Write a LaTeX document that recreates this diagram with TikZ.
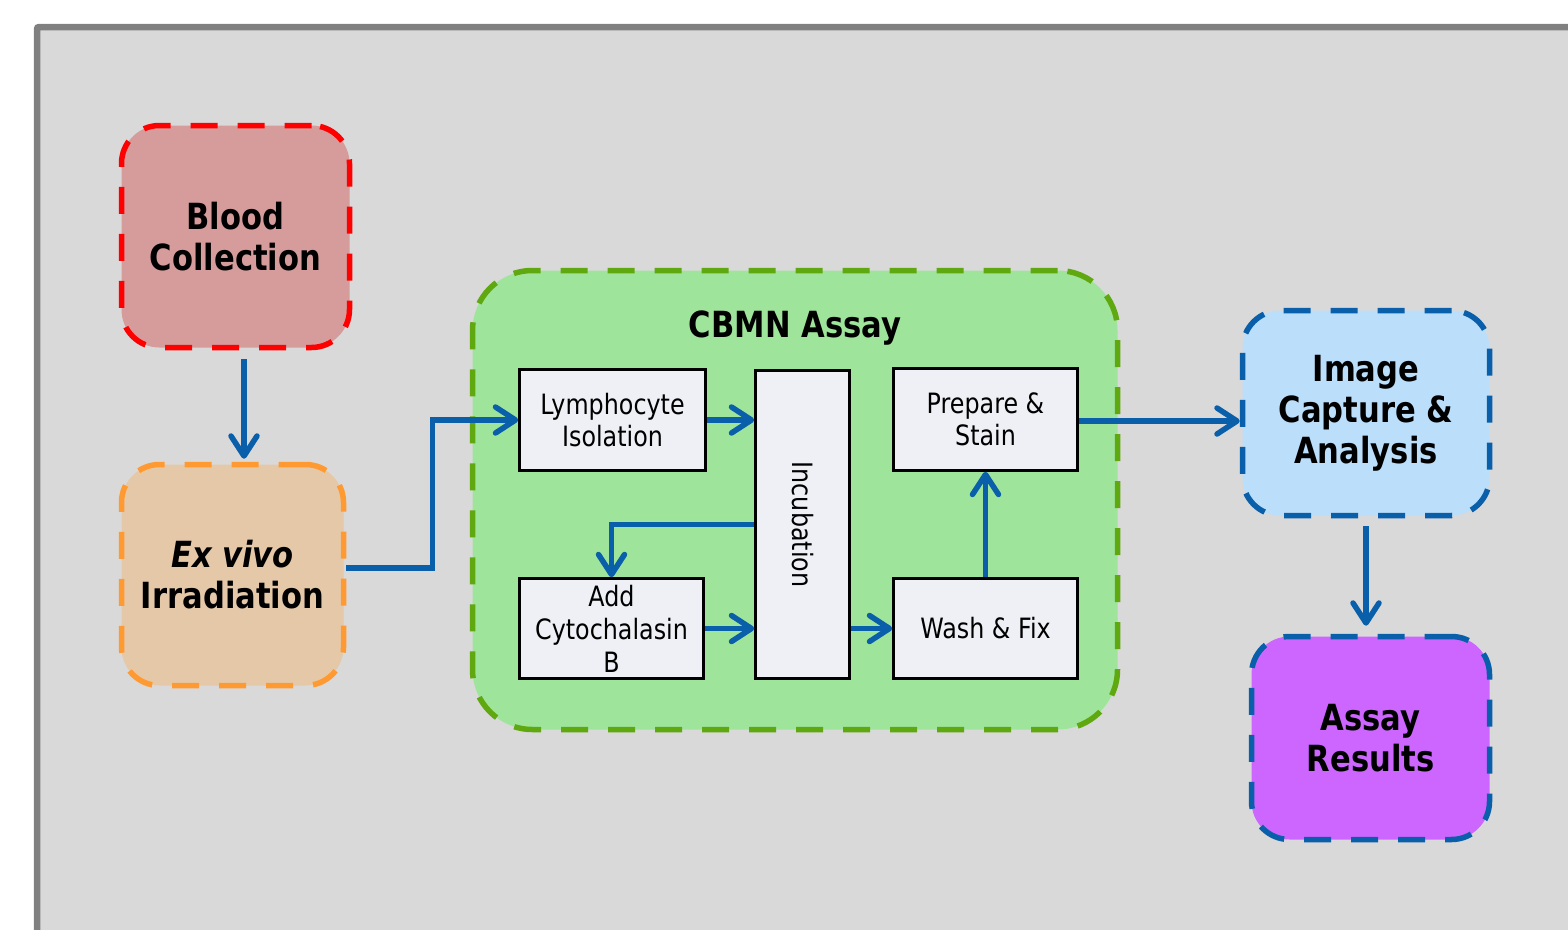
\documentclass[tikz,border=0pt]{standalone}
\usepackage{fontspec}
\setmainfont{DejaVu Sans}[FakeStretch=0.85]
\usetikzlibrary{arrows.meta,calc}
\definecolor{bggray}{HTML}{D9D9D9}
\definecolor{framegray}{HTML}{808080}
\definecolor{bloodfill}{HTML}{D59C9B}
\definecolor{bloodline}{HTML}{FF0000}
\definecolor{exfill}{HTML}{E5C8A8}
\definecolor{exline}{HTML}{FF9A33}
\definecolor{cbmnfill}{HTML}{9EE59B}
\definecolor{cbmnline}{HTML}{5FA80F}
\definecolor{stepfill}{HTML}{EEF0F5}
\definecolor{imgfill}{HTML}{BBDEFB}
\definecolor{blueline}{HTML}{0A5FAA}
\definecolor{resfill}{HTML}{CC66FF}
\tikzset{
  bigbox/.style={rectangle, rounded corners=38pt, line width=5.5pt,
    dash pattern=on 27pt off 20pt, inner sep=0pt, align=center,
    font=\fontsize{36}{41}\selectfont\bfseries},
  stepbox/.style={rectangle, draw=black, line width=2.5pt, fill=stepfill,
    inner sep=0pt, align=center, font=\fontsize{28}{32}\selectfont},
  arr/.style={draw=blueline, line width=5.5pt,
    -{Straight Barb[length=20pt,width=26pt,round]}},
}
\begin{document}
\begin{tikzpicture}[x=1pt,y=-1pt]
\useasboundingbox (0,0) rectangle (1568,929);
\fill[white] (0,0) rectangle (1568,929);
\begin{scope}
  \clip (0,0) rectangle (1568,929);
  \draw[line width=6.5pt, draw=framegray, fill=bggray, rounded corners=2pt]
    (37,27) rectangle (1640,990);
\end{scope}

% outer boxes
\node[bigbox, fill=bloodfill, draw=bloodline, minimum width=228pt, minimum height=222pt]
  (blood) at (235.5,236.5) {Blood\\Collection};
\node[bigbox, fill=exfill, draw=exline, minimum width=222pt, minimum height=221pt]
  (ex) at (232.5,575) {\itshape Ex vivo\\Irradiation};
\node[bigbox, rounded corners=60pt, fill=cbmnfill, draw=cbmnline,
  minimum width=645pt, minimum height=459pt] (cbmn) at (795,500) {};
\node[font=\fontsize{36}{41}\selectfont\bfseries, anchor=base] (title) at (795,337) {CBMN Assay};
\node[bigbox, fill=imgfill, draw=blueline, minimum width=247pt, minimum height=205pt]
  (img) at (1366,413) {Image\\Capture \&\\Analysis};
\node[bigbox, fill=resfill, draw=blueline, minimum width=238pt, minimum height=203pt]
  (res) at (1370.5,738) {Assay\\Results};

% inner steps
\node[stepbox, minimum width=186pt, minimum height=101pt] (lymph) at (612.5,420) {Lymphocyte\\Isolation};
\node[stepbox, rotate=-90, minimum width=308pt, minimum height=94pt] (incub) at (802.5,524.5) {Incubation};
\node[stepbox, minimum width=184pt, minimum height=102pt] (prep) at (985.5,419.5) {Prepare \&\\Stain};
\node[stepbox, minimum width=184pt, minimum height=100pt,
  font=\fontsize{28}{33}\selectfont] (add) at (611.5,628.5) {Add\\Cytochalasin\\B};
\node[stepbox, minimum width=184pt, minimum height=100pt] (wash) at (985.5,628.5) {Wash \& Fix};

% connectors
\draw[arr, shorten <=9pt, shorten >=3pt] ([xshift=8.5pt]blood.south) -- ([xshift=8.5pt]blood.south |- ex.north);
\draw[arr] ([yshift=7pt]ex.east) -- ++(86,0) |- (lymph.west);
\draw[arr] (lymph.east) -- (lymph.east -| incub.south);
\draw[arr] (incub.south) -| (add.north);
\draw[arr] (add.east) -- (add.east -| incub.south);
\draw[arr] (wash.west -| incub.north) -- (wash.west);
\draw[arr] (wash.north) -- (prep.south);
\draw[arr] ([yshift=-1.5pt]prep.east) -- ([yshift=-1.5pt]prep.east -| img.west);
\draw[arr, shorten <=8pt, shorten >=8pt] (img.south) -- (img.south |- res.north);
\end{tikzpicture}
\end{document}
